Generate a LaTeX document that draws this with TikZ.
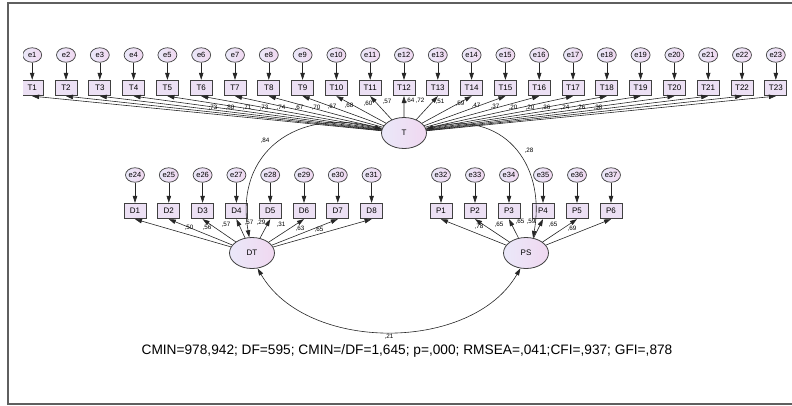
\documentclass[tikz,border=0pt]{standalone}
\usepackage{fontspec}
\setmainfont{Liberation Sans}
\usetikzlibrary{arrows.meta,shapes.geometric}
\definecolor{lavleft}{RGB}{234,232,249}
\definecolor{lavright}{RGB}{240,216,240}
\definecolor{boxfill}{RGB}{236,224,244}
\definecolor{framegray}{RGB}{95,95,95}

\begin{document}
\begin{tikzpicture}[x=1pt,y=1pt,
obs/.style={rectangle,draw=black!75,line width=0.8pt,fill=boxfill,minimum width=22pt,minimum height=15.5pt,inner sep=0pt,font=\fontsize{8}{8}\selectfont},
err/.style={ellipse,draw=black!75,line width=0.7pt,left color=lavleft,right color=lavright,minimum width=19pt,minimum height=14.5pt,inner sep=0pt,font=\fontsize{7.5}{7.5}\selectfont},
lat/.style={ellipse,draw=black!75,line width=0.8pt,left color=lavleft,right color=lavright,minimum width=45pt,minimum height=31pt,inner sep=0pt,font=\fontsize{8}{8}\selectfont},
lnk/.style={draw=black!85,line width=0.6pt,-{Triangle[length=7pt,width=4.5pt]}},
cov/.style={draw=black!85,line width=0.6pt,{Triangle[length=7pt,width=4.5pt]}-{Triangle[length=7pt,width=4.5pt]}},
est/.style={font=\fontsize{6.3}{6.3}\selectfont,inner sep=0pt}]
\useasboundingbox (0,0) rectangle (792,-405);
\begin{scope}
\clip (23,0) rectangle (792,-405);
\node[lat] (T) at (404,-133) {T};
\node[lat] (DT) at (252,-253) {DT};
\node[lat] (PS) at (526,-253) {PS};
\foreach \i in {1,...,23} {
   \node[err] (e\i) at ({32.2+(\i-1)*33.8},-55) {e\i};
   \node[obs] (T\i) at ({32.2+(\i-1)*33.8},-88) {T\i};
   \draw[lnk] (e\i) -- (T\i);
   \draw[lnk] (T) -- (T\i.south);
}
\foreach \i in {1,...,8} {
   \pgfmathtruncatemacro{\k}{\i+23}
   \node[err] (e\k) at ({135+(\i-1)*33.8},-175) {e\k};
   \node[obs] (D\i) at ({135+(\i-1)*33.8},-211) {D\i};
   \draw[lnk] (e\k) -- (D\i);
   \draw[lnk] (DT) -- (D\i.south);
}
\foreach \i in {1,...,6} {
   \pgfmathtruncatemacro{\k}{\i+31}
   \node[err] (e\k) at ({441+(\i-1)*34},-175) {e\k};
   \node[obs] (P\i) at ({441+(\i-1)*34},-211) {P\i};
   \draw[lnk] (e\k) -- (P\i);
   \draw[lnk] (PS) -- (P\i.south);
}
\draw[cov] (T.170) to[out=165,in=100,looseness=1.3] (DT.100);
\draw[cov] (T.10) to[out=15,in=80,looseness=1.3] (PS.65);
\draw[cov] (DT.-70) to[out=-60,in=-120,looseness=0.95] (PS.-110);
\foreach \i/\v/\lx/\ly in %
{1/73/213/108,2/80/230/108,3/71/247/108,4/73/264/108,5/74/281/108,6/67/299/108,
 7/70/316/108,8/67/332/107,9/68/349/106,10/60/368/104,11/57/387/102,12/64/410/101,
 13/72/420/101,14/51/440/102,15/59/460/104,16/47/476/106,17/37/495/107,18/20/513/108,
 19/20/530/108,20/36/546/108,21/24/565/108,22/26/581/108,23/38/598/108} {
   \node[est] (lt\i) at (\lx,-\ly) {,\v};
}
\foreach \i/\v/\lx/\ly in %
{1/50/189/228,2/56/207/228,3/57/226/225,4/57/249/223,5/29/261/223,6/31/281/225,
 7/63/300/229,8/65/319/230} {
   \node[est] (ld\i) at (\lx,-\ly) {,\v};
}
\foreach \i/\v/\lx/\ly in %
{1/78/479/227,2/65/499/225,3/65/520/222,4/59/531/222,5/65/553/225,6/69/572/229} {
   \node[est] (lp\i) at (\lx,-\ly) {,\v};
}
\node[est] (rtd) at (265,-141) {,84};
\node[est] (rtp) at (529,-151) {,28};
\node[est] (rdp) at (389,-337) {,21};
\node[font=\fontsize{13.7}{14}\selectfont] (fit) at (407,-351) {CMIN=978,942; DF=595; CMIN=/DF=1,645; p=,000; RMSEA=,041;CFI=,937; GFI=,878};
\end{scope}
\draw[framegray,line width=1.5pt] (792,-3) -- (8,-3) -- (8,-404) -- (792,-404);
\end{tikzpicture}
\end{document}
